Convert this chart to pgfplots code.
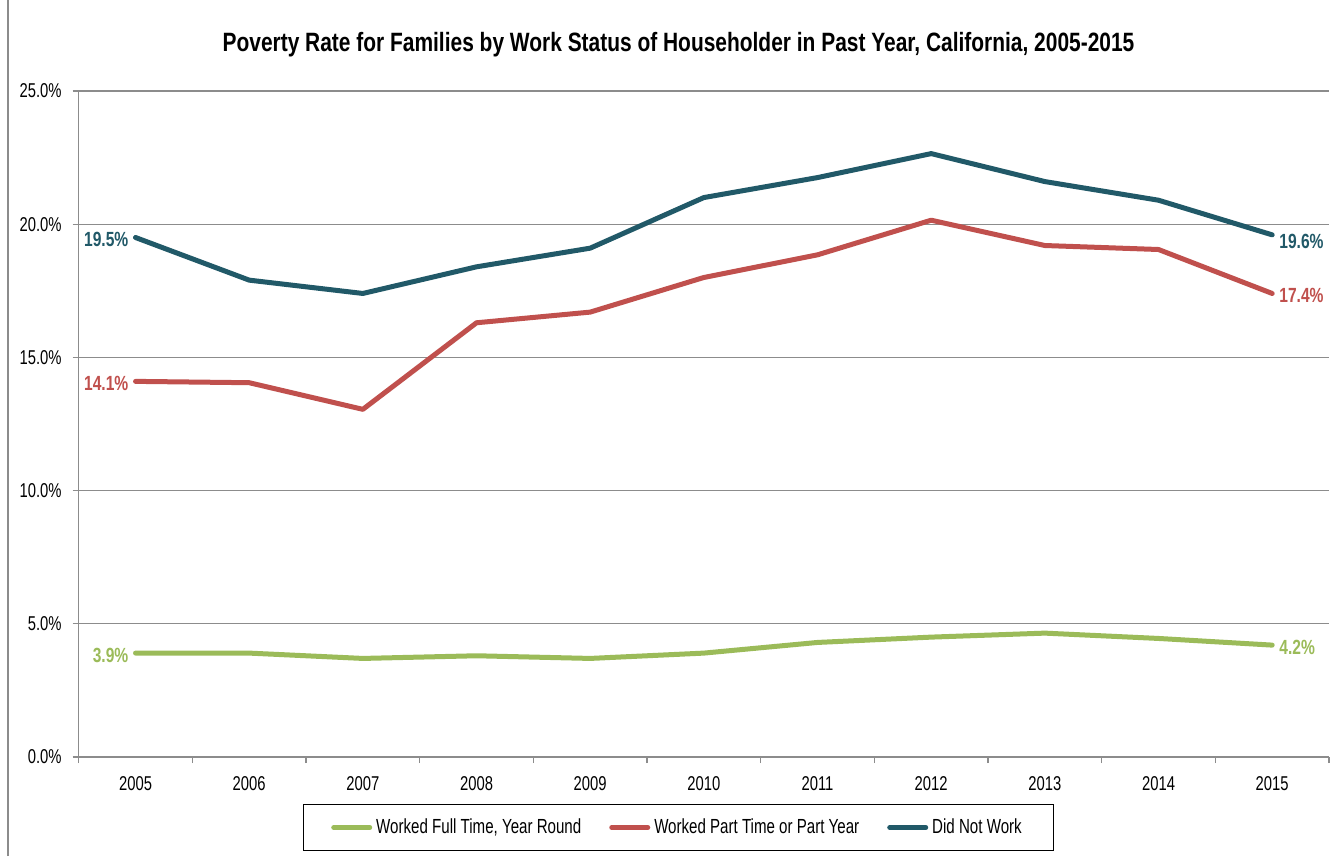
\documentclass[border=0pt]{standalone}
\usepackage{fontspec}
\setmainfont{Liberation Sans}[FakeStretch=0.74]
\newfontfamily\titlefont{Liberation Sans}[FakeStretch=0.79]
\newfontfamily\labelfont{Liberation Sans}[FakeStretch=0.76]
\usepackage{pgfplots}
\pgfplotsset{compat=1.18}
\definecolor{cgreen}{HTML}{9BBB59}
\definecolor{cred}{HTML}{C0504D}
\definecolor{cblue}{HTML}{215968}
\definecolor{cgrid}{HTML}{8C8C8C}
\begin{document}
\begin{tikzpicture}
\path[use as bounding box] (0,0) rectangle (668pt,428pt);
\draw[cgrid, line width=0.6pt] (4pt,0) -- (4pt,428pt);
\node[font=\titlefont\fontsize{13.25}{15}\selectfont\bfseries] at (339.25pt,405.5pt) {Poverty Rate for Families by Work Status of Householder in Past Year, California, 2005-2015};
\begin{axis}[
  at={(39.35pt,49.5pt)}, anchor=south west,
  width=625.15pt, height=333pt, scale only axis,
  xmin=-0.5, xmax=10.5, ymin=0, ymax=25,
  axis x line*=bottom, axis y line*=left,
  axis line style={cgrid, line width=0.6pt, -},
  xtick={0,...,10},
  xticklabels={2005,2006,2007,2008,2009,2010,2011,2012,2013,2014,2015},
  minor xtick={-0.5,0.5,...,10.5},
  major x tick style={draw=none},
  minor x tick style={cgrid, line width=0.6pt},
  minor tick length=3pt,
  ytick={0,5,...,25},
  major tick length=3pt,
  y tick style={cgrid, line width=0.6pt},
  tick align=outside,
  ymajorgrids, grid style={cgrid, line width=0.6pt},
  yticklabel={\pgfmathprintnumber[fixed,fixed zerofill,precision=1]{\tick}\%},
  /pgf/number format/assume math mode=true,
  tick label style={font=\fontsize{10}{11}\selectfont, black},
  xticklabel style={yshift=-3pt},
  yticklabel style={xshift=-2pt},
  legend style={at={(0.4797,-0.1059)}, anchor=center, draw=black, line width=0.6pt,
    legend columns=3, font=\fontsize{10.2}{11}\selectfont,
    /tikz/every even column/.append style={column sep=12pt},
    inner ysep=5pt, inner xsep=14pt},
  legend image code/.code={\draw[#1, line width=2.5pt, line cap=round] (0pt,0pt) -- (18pt,0pt);},
  clip=false,
]
\addplot[cgreen, line width=2.5pt, line cap=round, line join=round] coordinates {
(0,3.9) (1,3.9) (2,3.7) (3,3.8) (4,3.7) (5,3.9) (6,4.3) (7,4.5) (8,4.65) (9,4.45) (10,4.2)};
\addlegendentry{Worked Full Time, Year Round}
\addplot[cred, line width=2.5pt, line cap=round, line join=round] coordinates {
(0,14.1) (1,14.05) (2,13.05) (3,16.3) (4,16.7) (5,18.0) (6,18.85) (7,20.15) (8,19.2) (9,19.05) (10,17.4)};
\addlegendentry{Worked Part Time or Part Year}
\addplot[cblue, line width=2.5pt, line cap=round, line join=round] coordinates {
(0,19.5) (1,17.9) (2,17.4) (3,18.4) (4,19.1) (5,21.0) (6,21.75) (7,22.65) (8,21.6) (9,20.9) (10,19.6)};
\addlegendentry{Did Not Work}
\begin{scope}[font=\labelfont\fontsize{10.25}{11}\selectfont\bfseries, inner sep=0pt]
\node[anchor=east, text=cgreen] at (axis cs:-0.06,3.82) {3.9\%};
\node[anchor=east, text=cred] at (axis cs:-0.06,14.02) {14.1\%};
\node[anchor=east, text=cblue] at (axis cs:-0.06,19.42) {19.5\%};
\node[anchor=west, text=cgreen] at (axis cs:10.06,4.12) {4.2\%};
\node[anchor=west, text=cred] at (axis cs:10.06,17.33) {17.4\%};
\node[anchor=west, text=cblue] at (axis cs:10.06,19.35) {19.6\%};
\end{scope}
\end{axis}
\end{tikzpicture}
\end{document}
